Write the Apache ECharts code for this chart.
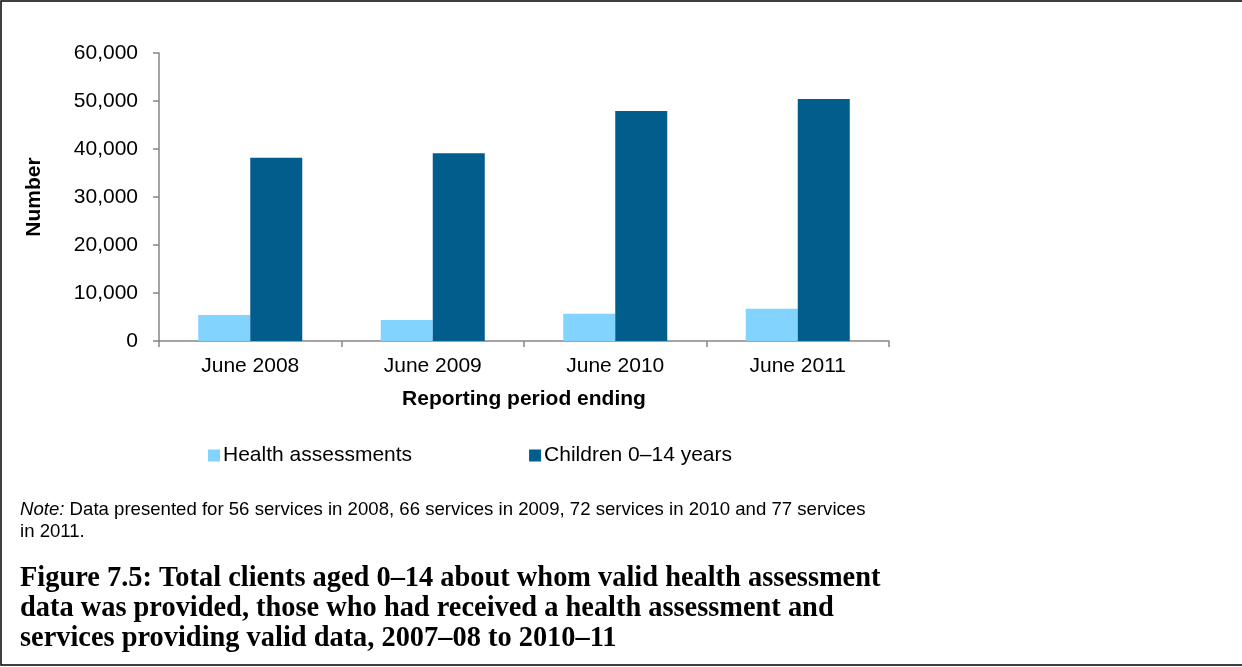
<!DOCTYPE html>
<html>
<head>
<meta charset="utf-8">
<style>
  html, body { margin: 0; padding: 0; background: #fff; }
  #chart { width: 1242px; height: 667px; }
</style>
<script src="https://cdn.jsdelivr.net/npm/echarts@6/dist/echarts.min.js"></script>
</head>
<body>
<div id="chart"></div>
<script>
// Reporting periods and counts of clients aged 0–14
const periods = ['June 2008', 'June 2009', 'June 2010', 'June 2011'];
const healthAssessments = [5400, 4400, 5700, 6700];
const children0to14 = [38200, 39100, 47900, 50400];
const seriesNames = ['Health assessments', 'Children 0\u201314 years'];
const yTicks = { min: 0, max: 60000, interval: 10000 };

const noteText = 'Data presented for 56 services in 2008, 66 services in 2009, 72 services in 2010 and 77 services';
const noteText2 = 'in 2011.';
const captionLines = [
  'Figure 7.5: Total clients aged 0\u201314 about whom valid health assessment',
  'data was provided, those who had received a health assessment and',
  'services providing valid data, 2007\u201308 to 2010\u201311'
];

const SANS = '"Liberation Sans", Arial, sans-serif';
const SERIF = '"Liberation Serif", "DejaVu Serif", serif';
const AXIS_GREY = '#868686';
const FS = 21;

const chart = echarts.init(document.getElementById('chart'), null, { renderer: 'canvas' });

const graphics = [
  // frame around the figure (right edge runs off the page)
  { type: 'polyline', silent: true,
    shape: { points: [[1242, 1], [1, 1], [1, 665], [1242, 665]] },
    style: { stroke: '#000', lineWidth: 1.5, fill: null } },
  { type: 'text', left: 20, top: 500,
    style: { text: '{i|Note:} ' + noteText, rich: { i: { fontStyle: 'italic', fontFamily: SANS, fontSize: 18.6, fill: '#000' } },
      fontFamily: SANS, fontSize: 18.6, fill: '#000' } },
  { type: 'text', left: 20, top: 522,
    style: { text: noteText2, fontFamily: SANS, fontSize: 18.6, fill: '#000' } }
];
captionLines.forEach((line, i) => {
  graphics.push({ type: 'text', left: 20, top: 565 + i * 30,
    style: { text: line, fontFamily: SERIF, fontWeight: 'bold', fontSize: 28.4, fill: '#000' } });
});

chart.setOption({
  animation: false,
  backgroundColor: '#fff',
  textStyle: { fontFamily: SANS },
  grid: { left: 159, right: 353, top: 53, bottom: 326, containLabel: false },
  legend: {
    left: 203, top: 440,
    itemWidth: 12, itemHeight: 12, itemGap: 117,
    icon: 'rect',
    textStyle: { fontFamily: SANS, fontSize: FS, color: '#000', padding: [0, 0, 0, -2] },
    data: seriesNames
  },
  xAxis: {
    type: 'category',
    data: periods,
    name: 'Reporting period ending',
    nameLocation: 'middle',
    nameGap: 48,
    nameTextStyle: { fontFamily: SANS, fontSize: FS, fontWeight: 'bold', color: '#000' },
    axisLine: { lineStyle: { color: AXIS_GREY, width: 1.5 } },
    axisTick: { show: true, alignWithLabel: false, length: 6, lineStyle: { color: AXIS_GREY, width: 1.5 } },
    axisLabel: { fontFamily: SANS, fontSize: FS, color: '#000', margin: 15 }
  },
  yAxis: {
    type: 'value',
    min: yTicks.min, max: yTicks.max, interval: yTicks.interval,
    name: 'Number',
    nameLocation: 'middle',
    nameRotate: 90,
    nameGap: 114,
    nameTextStyle: { fontFamily: SANS, fontSize: FS, fontWeight: 'bold', color: '#000' },
    axisLine: { show: true, lineStyle: { color: AXIS_GREY, width: 1.5 } },
    axisTick: { show: true, inside: false, length: 6, lineStyle: { color: AXIS_GREY, width: 1.5 } },
    splitLine: { show: false },
    axisLabel: { fontFamily: SANS, fontSize: FS, color: '#000', margin: 21,
      formatter: v => v.toLocaleString('en-US') }
  },
  series: [
    { name: seriesNames[0], type: 'bar', data: healthAssessments, barWidth: '28.5%', barGap: '0%',
      itemStyle: { color: '#83D3FF' } },
    { name: seriesNames[1], type: 'bar', data: children0to14, barWidth: '28.5%', barGap: '0%',
      itemStyle: { color: '#005D8C' } }
  ],
  graphic: graphics
});
</script>
</body>
</html>
